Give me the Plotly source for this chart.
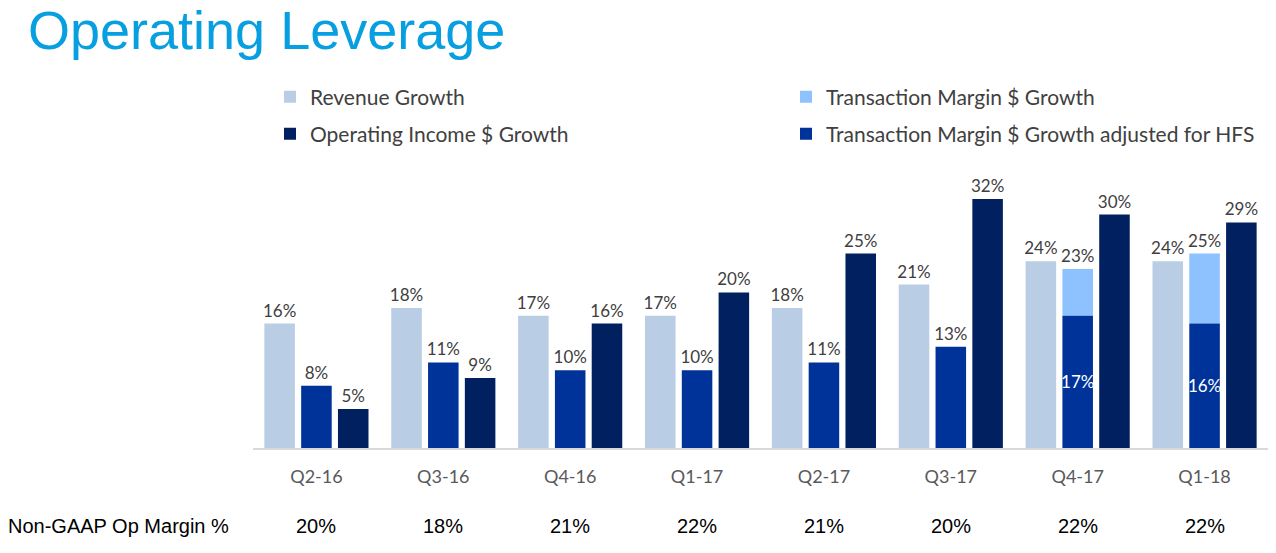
import plotly.graph_objects as go

quarters = ["Q2-16", "Q3-16", "Q4-16", "Q1-17", "Q2-17", "Q3-17", "Q4-17", "Q1-18"]
revenue_growth = [16, 18, 17, 17, 18, 21, 24, 24]
tm_hfs_growth = [8, 11, 10, 10, 11, 13, 17, 16]
tm_growth_total = [None, None, None, None, None, None, 23, 25]
op_income_growth = [5, 9, 16, 20, 25, 32, 30, 29]
non_gaap_margin = ["20%", "18%", "21%", "22%", "21%", "20%", "22%", "22%"]

W, H = 1276, 553
L, R, T, B = 253, 8, 180, 105
plot_h = H - T - B
YMAX = plot_h / 7.78

C_REV = "#B9CDE5"
C_TM = "#8DC2FF"
C_HFS = "#003399"
C_OP = "#002060"
LBL = "#404040"
LFONT = "Lato"

tm_extra = [None if t is None else t - h for t, h in zip(tm_growth_total, tm_hfs_growth)]
tm_text = ["" if t is None else f"{t}%" for t in tm_growth_total]
hfs_pos = ["inside" if t is not None else "outside" for t in tm_growth_total]

fig = go.Figure()
fig.add_bar(x=quarters, y=revenue_growth, name="Revenue Growth", marker_color=C_REV,
            offsetgroup="a", legend="legend",
            text=[f"{v}%" for v in revenue_growth], textposition="outside")
fig.add_bar(x=quarters, y=tm_extra, base=tm_hfs_growth, name="Transaction Margin $ Growth",
            marker_color=C_TM, offsetgroup="b", legend="legend2",
            text=tm_text, textposition="outside")
fig.add_bar(x=quarters, y=op_income_growth, name="Operating Income $ Growth", marker_color=C_OP,
            offsetgroup="c", legend="legend3",
            text=[f"{v}%" for v in op_income_growth], textposition="outside")
fig.add_bar(x=quarters, y=tm_hfs_growth, name="Transaction Margin $ Growth adjusted for HFS",
            marker_color=C_HFS, offsetgroup="b", legend="legend4",
            text=[f"{v}%" for v in tm_hfs_growth], textposition=hfs_pos,
            insidetextanchor="middle")

fig.update_traces(textfont=dict(family=LFONT, size=17, color=LBL),
                  outsidetextfont=dict(family=LFONT, size=17, color=LBL),
                  insidetextfont=dict(family=LFONT, size=17, color="white"),
                  cliponaxis=False, constraintext="none", textangle=0,
                  marker_line_width=0)

def leg(xpx, ypx):
    return dict(orientation="h", xref="container", yref="container",
                x=xpx / W, xanchor="left", y=1 - ypx / H, yanchor="middle",
                font=dict(family=LFONT, size=21, color=LBL), bgcolor="rgba(0,0,0,0)")

fig.update_layout(
    width=W, height=H,
    margin=dict(l=L, r=R, t=T, b=B, autoexpand=False),
    paper_bgcolor="white", plot_bgcolor="white",
    barmode="group", bargap=0.13, bargroupgap=0.17,
    legend=leg(270, 97), legend2=leg(786, 97),
    legend3=leg(270, 134), legend4=leg(786, 134),
    xaxis=dict(showline=True, linecolor="#D9D9D9", linewidth=1.5, ticks="",
               tickfont=dict(family=LFONT, size=18, color="#595959"),
               ticklabelstandoff=12, showgrid=False),
    yaxis=dict(range=[0, YMAX], visible=False, showgrid=False),
    showlegend=True,
)

fig.add_annotation(text="Operating Leverage", xref="paper", yref="paper",
                   x=(26 - L) / (W - L - R), y=(H - 30 - B) / plot_h,
                   xanchor="left", yanchor="middle", showarrow=False,
                   font=dict(family="Liberation Sans, Arial", size=54, color="#079FE0"))

row_y = (H - 526 - B) / plot_h
fig.add_annotation(text="Non-GAAP Op Margin %", xref="paper", yref="paper",
                   x=(6 - L) / (W - L - R), y=row_y, xanchor="left", yanchor="middle",
                   showarrow=False,
                   font=dict(family="Liberation Sans", size=20, color="black"))
for q, m in zip(quarters, non_gaap_margin):
    fig.add_annotation(text=m, x=q, xref="x", yref="paper", y=row_y,
                       xanchor="center", yanchor="middle", showarrow=False,
                       font=dict(family="Liberation Sans", size=20, color="black"))

fig.write_html("out.html", config={"displayModeBar": False},
               post_script="document.body.style.margin='0';document.body.style.overflow='hidden';")
